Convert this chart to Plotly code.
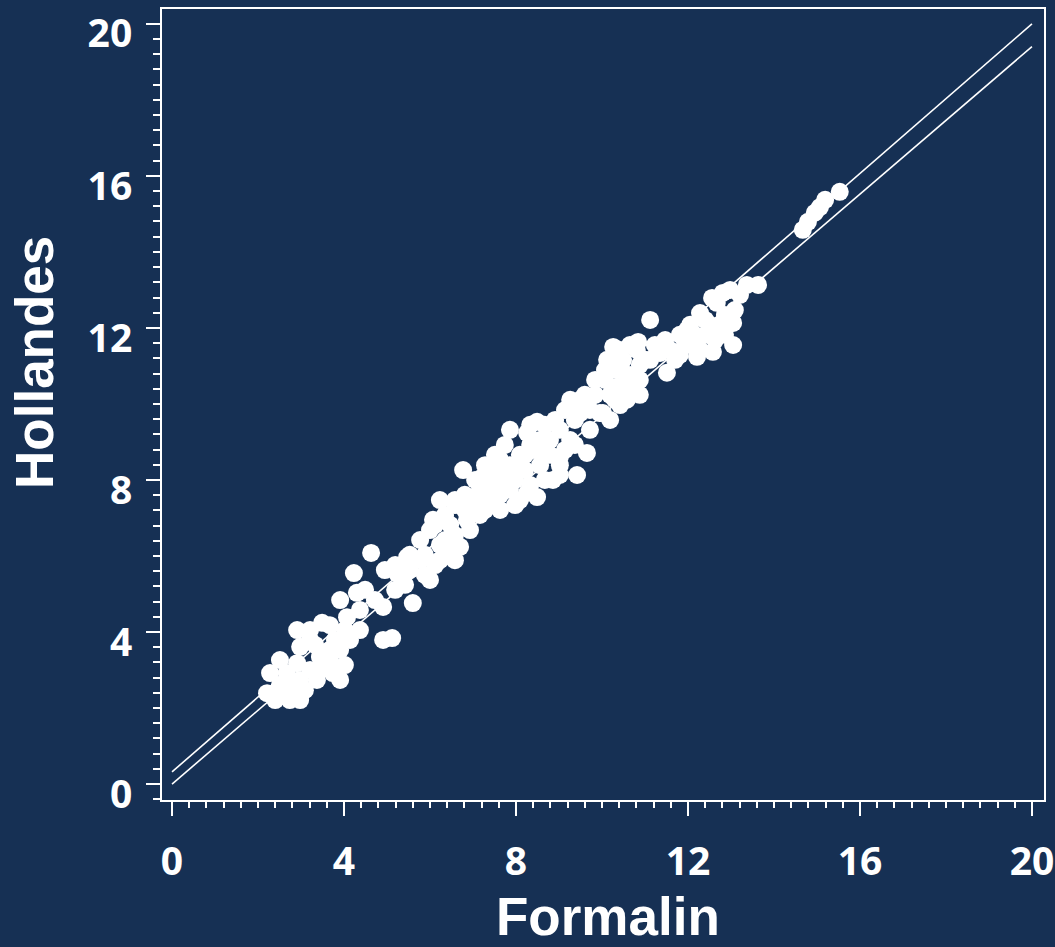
import plotly.graph_objects as go

# Data (Formalin vs Hollandes)
formalin = [
    2.21, 2.67, 2.28, 2.67, 3.37, 3.91, 3.74, 2.91, 3.44, 2.98,
    4.14, 4.91, 5.12, 2.91, 3.49, 4.07, 4.91, 5.60, 4.30, 4.23,
    5.23, 4.63, 3.21, 3.67, 2.51, 3.09, 4.37, 3.91,
    5.47, 5.77, 6.00, 6.07, 6.23, 6.70, 6.77, 6.86, 7.23, 7.63,
    7.63, 8.26, 8.49, 8.26, 8.49, 8.86, 8.79, 9.02, 9.49, 9.65,
    9.42, 9.95, 10.35, 10.72, 6.35, 6.47, 6.93, 7.16, 7.40, 7.86,
    7.98, 8.09, 8.56, 8.67, 7.40, 7.86, 6.58, 6.23, 5.88, 5.19,
    5.53, 7.16, 6.81, 7.63, 8.21, 9.02, 9.26, 9.37, 9.72, 10.02,
    9.49, 10.19, 10.42, 10.58, 10.35, 10.49, 10.42, 10.81, 10.88, 11.12,
    11.35, 11.51, 11.70, 11.98, 12.21, 12.28, 12.58, 12.67, 12.81, 13.05,
    13.05, 13.37, 13.63, 12.74, 12.40, 12.05, 11.81, 11.12, 10.07, 9.84,
    10.30, 14.67, 14.95, 15.19, 15.53, 8.67, 8.33, 7.74, 7.05, 6.58,
    6.12, 9.02, 9.14, 10.12, 10.26, 10.84,
    2.40, 2.98, 2.86, 3.21, 3.56, 4.02, 3.33, 3.79, 2.51, 3.67,
    4.02, 4.37, 4.49, 4.72, 5.19, 5.42, 4.95, 5.53, 5.77,
    6.00, 6.35, 6.58, 6.81, 7.05, 7.28, 7.51, 7.74, 7.98, 8.21,
    8.44, 8.56, 8.79, 8.09, 7.63, 7.28, 7.51, 7.74, 7.86, 8.33,
    8.91, 9.14, 9.26, 9.60, 9.84, 10.07, 10.30, 10.65, 10.88, 10.65,
    10.53, 10.88, 10.19, 9.72, 9.37, 9.02, 8.67, 8.33, 7.98, 7.28,
    6.93, 6.58, 6.47, 6.12, 6.23, 5.88,
    11.23, 11.58, 11.93, 12.16, 12.51, 12.63, 12.86, 12.40, 12.05, 11.81,
    11.47, 11.00, 12.28, 12.86, 13.09, 13.21, 12.98, 12.56,
    14.79, 15.07,
    2.74, 2.98, 3.44, 3.67, 3.21, 3.91,
]
hollandes = [
    2.39, 2.29, 2.92, 2.92, 2.74, 2.74, 2.92, 3.18, 3.34, 3.61,
    3.79, 3.79, 3.84, 4.05, 4.24, 4.39, 4.66, 4.76, 5.03, 5.55,
    5.55, 6.08, 3.79, 3.53, 2.61, 2.47, 4.05, 4.84,
    5.97, 6.42, 5.37, 6.95, 7.47, 6.24, 8.26, 6.95, 8.08, 8.53,
    7.21, 9.24, 9.53, 7.66, 7.55, 8.00, 9.05, 8.61, 10.11, 8.71,
    8.13, 9.76, 10.45, 10.29, 6.42, 6.82, 7.34, 7.74, 8.26, 8.39,
    8.00, 8.66, 8.39, 8.79, 7.47, 7.74, 5.89, 5.89, 6.03, 5.76,
    5.63, 7.08, 7.61, 8.00, 8.26, 9.32, 9.05, 9.58, 9.84, 9.76,
    9.76, 10.24, 9.97, 10.11, 10.89, 11.16, 11.42, 11.42, 10.63, 12.21,
    11.34, 10.82, 11.16, 11.95, 11.24, 12.39, 11.37, 12.66, 12.92, 12.13,
    11.55, 13.13, 13.13, 12.08, 11.82, 11.55, 11.29, 11.16, 10.63, 10.24,
    10.11, 14.58, 15.03, 15.37, 15.58, 9.45, 8.92, 8.26, 8.00, 7.34,
    6.82, 8.13, 8.79, 11.16, 11.50, 11.63,
    2.21, 2.21, 2.61, 3.00, 3.13, 3.13, 3.66, 3.79, 3.26, 4.18,
    4.05, 4.58, 5.11, 4.84, 5.11, 5.24, 5.63, 6.03, 5.89,
    6.68, 7.08, 7.47, 7.21, 7.47, 7.61, 7.87, 8.00, 8.26, 8.66,
    8.79, 9.05, 8.66, 7.47, 7.61, 8.39, 8.66, 8.92, 9.32, 9.45,
    9.58, 9.84, 10.11, 10.24, 10.63, 10.89, 11.16, 11.55, 11.03, 10.76,
    10.50, 10.24, 9.58, 9.32, 8.92, 8.39, 8.00, 7.87, 7.34, 7.21,
    6.68, 6.55, 6.16, 5.76, 6.29, 5.50,
    11.55, 11.42, 11.55, 11.82, 12.08, 11.68, 12.34, 12.21, 12.08, 11.82,
    11.68, 11.16, 11.42, 11.82, 12.47, 12.87, 13.00, 12.79,
    14.79, 15.18,
    2.21, 2.74, 3.00, 3.26, 4.05, 3.53,
]

# Two reference lines
line_x = [0, 20]
upper_intercept, upper_slope = 0.32, 0.984
lower_intercept, lower_slope = 0.0, 0.970

x_ticks = [0, 4, 8, 12, 16, 20]
y_ticks = [0, 4, 8, 12, 16, 20]
x_title = "Formalin"
y_title = "Hollandes"

bg = "#163054"

fig = go.Figure()
fig.add_trace(go.Scatter(
    x=formalin, y=hollandes, mode="markers",
    marker=dict(size=18, color="white", line=dict(width=0)),
    showlegend=False, hoverinfo="skip",
))
fig.add_trace(go.Scatter(
    x=line_x, y=[upper_intercept + upper_slope * v for v in line_x],
    mode="lines", line=dict(color="white", width=1.6), showlegend=False,
))
fig.add_trace(go.Scatter(
    x=line_x, y=[lower_intercept + lower_slope * v for v in line_x],
    mode="lines", line=dict(color="white", width=1.6), showlegend=False,
))

tickfont = dict(family="Open Sans", size=39, color="white", weight="bold")
titlefont = dict(family="Liberation Sans, Arial", size=53, color="white", weight="bold")

fig.update_layout(
    width=1055, height=947,
    margin=dict(l=162, r=11, t=9, b=147),
    paper_bgcolor=bg, plot_bgcolor=bg,
    xaxis=dict(
        range=[-0.233, 20.28], tickvals=x_ticks, ticktext=[str(v) for v in x_ticks],
        showgrid=False, zeroline=False, automargin=False,
        showline=True, mirror=True, linecolor="white", linewidth=2,
        ticks="outside", ticklen=14, tickwidth=2, tickcolor="white",
        minor=dict(dtick=0.4, tick0=0, ticks="outside", ticklen=6, tickwidth=2, tickcolor="white", showgrid=False),
        tickfont=tickfont, ticklabelstandoff=12, ticklabeloverflow="allow",
    ),
    yaxis=dict(
        range=[-0.42, 20.39], tickvals=y_ticks, ticktext=[str(v) for v in y_ticks],
        showgrid=False, zeroline=False, automargin=False,
        showline=True, mirror=True, linecolor="white", linewidth=2,
        ticks="outside", ticklen=14, tickwidth=2, tickcolor="white",
        minor=dict(dtick=0.4, tick0=0, ticks="outside", ticklen=7, tickwidth=2, tickcolor="white", showgrid=False),
        tickfont=tickfont, ticklabelstandoff=6, ticklabelshift=10, ticklabeloverflow="allow",
    ),
    annotations=[
        dict(text=x_title, xref="paper", yref="paper", x=0.5057, y=0,
             xanchor="center", yanchor="middle", yshift=-116, showarrow=False, font=titlefont),
        dict(text=y_title, xref="paper", yref="paper", x=0, y=0.5525, textangle=-90,
             xanchor="center", yanchor="middle", xshift=-127, showarrow=False, font=titlefont),
    ],
)

fig.write_html("out.html")
